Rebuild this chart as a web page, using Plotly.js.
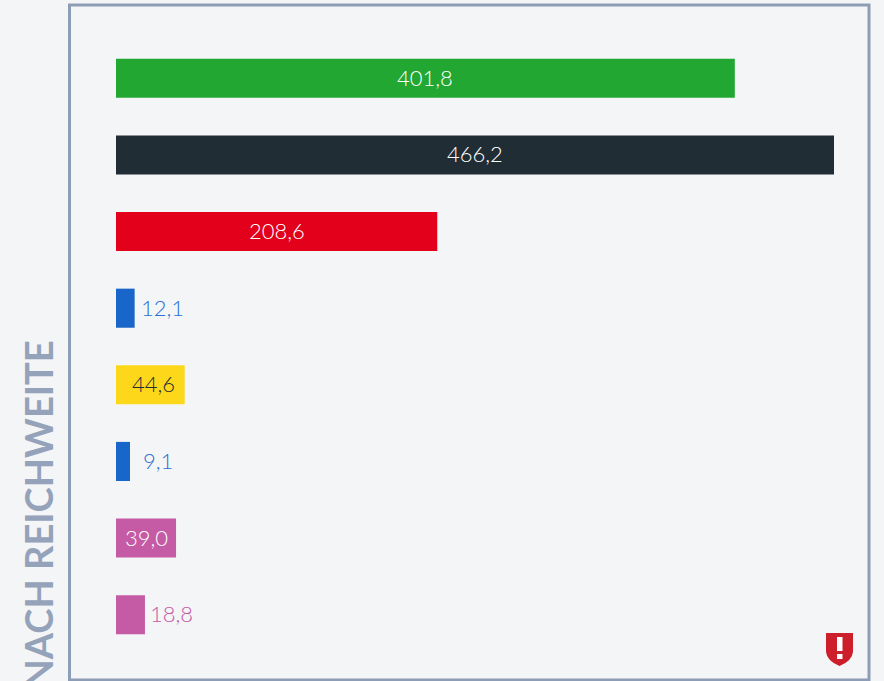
<!DOCTYPE html>
<html>
<head>
<meta charset="utf-8">
<script src="https://cdn.plot.ly/plotly-3.0.1.min.js"></script>
<style>html,body{margin:0;padding:0;background:#f4f5f7;overflow:hidden}#c{width:884px;height:681px}</style>
</head>
<body>
<div id="c"></div>
<script>
const categories = ["A","B","C","D","E","F","G","H"];
const values = [401.8,466.2,208.6,12.1,44.6,9.1,39.0,18.8];
const barColors = ["#22a733","#212d35","#e3001b","#1866c9","#fdd71a","#1866c9","#c55aa5","#c55aa5"];
const labelColors = ["#ffffff","#ffffff","#ffffff","#2a6fd6","#212d35","#2a6fd6","#ffffff","#c55aa5"];
const labelOffsets = [0,0,0,27.5,3,27.5,0,27];
const axisTitle = "NACH REICHWEITE";

const L=116,T=40,W=718,H=613;
const px=x=>(x-L)/W, py=y=>1-(y-T)/H;
const fmt=v=>v.toFixed(1).replace(".",",");
const font="Lato, 'Open Sans', sans-serif";

const annotations = values.map((v,i)=>{
  const outside = labelOffsets[i]>5;
  return {
    x: outside ? v : v/2, y: categories[i], xref:"x", yref:"y",
    text: fmt(v), showarrow:false, xanchor:"center", yanchor:"middle",
    xshift: labelOffsets[i], yshift:1,
    font:{family:font,size:22,color:labelColors[i],weight:300}
  };
});
annotations.push({
  x:px(37.5), y:py(339), xref:"paper", yref:"paper", text:axisTitle, textangle:-90,
  showarrow:false, xanchor:"center", yanchor:"top",
  font:{family:font,size:38,color:"#94a3ba",weight:700}
});

const shield = `M ${px(826)} ${py(633)} L ${px(853)} ${py(633)} L ${px(853)} ${py(652)} Q ${px(852)} ${py(661)} ${px(839.5)} ${py(666)} Q ${px(827)} ${py(661)} ${px(826)} ${py(652)} Z`;
const shapes = [
  {type:"rect",xref:"paper",yref:"paper",x0:px(69.5),x1:px(869),y0:py(5),y1:py(680),
   line:{color:"#8d9db5",width:3},fillcolor:"rgba(0,0,0,0)",layer:"below"},
  {type:"path",xref:"paper",yref:"paper",path:shield,fillcolor:"#cc1f2b",line:{width:0}},
  {type:"rect",xref:"paper",yref:"paper",x0:px(837),x1:px(842.5),y0:py(637),y1:py(651),fillcolor:"#ffffff",line:{width:0}},
  {type:"rect",xref:"paper",yref:"paper",x0:px(837),x1:px(842.5),y0:py(654),y1:py(659),fillcolor:"#ffffff",line:{width:0}}
];

Plotly.newPlot("c",[{
  type:"bar",orientation:"h",y:categories,x:values,
  marker:{color:barColors,line:{width:0}},hoverinfo:"skip",textposition:"none"
}],{
  width:884,height:681,margin:{l:L,r:884-L-W,t:T,b:681-T-H,pad:0},
  paper_bgcolor:"#f4f5f7",plot_bgcolor:"rgba(0,0,0,0)",
  bargap:0.49,showlegend:false,
  xaxis:{range:[0,466.2],visible:false,fixedrange:true},
  yaxis:{autorange:"reversed",visible:false,fixedrange:true,type:"category"},
  annotations,shapes
},{displayModeBar:false,staticPlot:true});
</script>
</body>
</html>
